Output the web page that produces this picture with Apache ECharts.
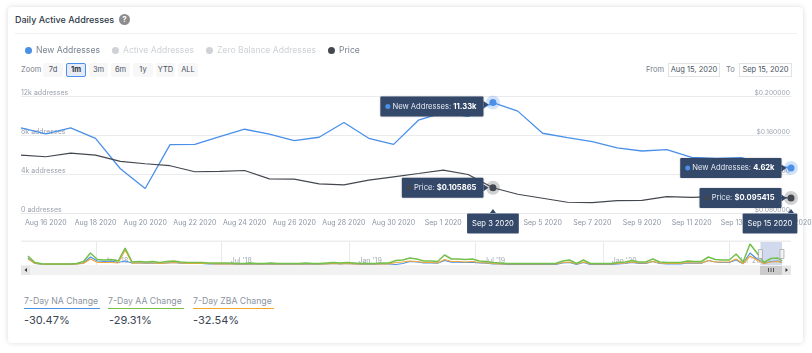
<!DOCTYPE html>
<html>
<head>
<meta charset="utf-8">
<script src="https://cdn.jsdelivr.net/npm/echarts@6/dist/echarts.min.js"></script>
<style>
html, body { margin: 0; padding: 0; background: #fff; }
body { width: 812px; height: 353px; overflow: hidden; position: relative; font-family: Inter, sans-serif; color: #3a4452; }
.card { position: absolute; left: 8px; top: 7px; width: 795px; height: 336px; background: #fff; border-radius: 4px; box-shadow: 0 0 5px rgba(40, 50, 70, .18); }
.abs { position: absolute; white-space: nowrap; }
.title { left: 15px; top: 14px; font-size: 9px; line-height: 12px; font-weight: 500; color: #2f3a48; }
.help { left: 119px; top: 14px; width: 11px; height: 11px; line-height: 11px; border-radius: 50%; background: #8c8c8c; color: #fff; font-size: 8px; font-weight: 700; text-align: center; }
.divider { left: 15px; top: 33px; width: 782px; height: 1px; background: #eef0f3; }
.small { font-size: 7.5px; line-height: 14px; color: #77808c; top: 63px; }
.btn { top: 63px; height: 14px; line-height: 14px; background: #f7f7f8; border-radius: 2px; font-size: 7.5px; text-align: center; color: #4a5360; }
.btn.on { background: #e6ebf5; box-sizing: border-box; border: 1px solid #4a90ee; line-height: 12px; font-weight: 700; color: #2f3a48; }
.date { top: 63px; height: 14px; box-sizing: border-box; border: 1px solid #e1e3e6; line-height: 12px; font-size: 7.5px; text-align: center; color: #4a5360; }
.statName { top: 295px; font-size: 8.7px; line-height: 12px; color: #8b939e; padding-bottom: 1px; border-bottom: 1px solid; }
.statVal { top: 312px; font-size: 11px; line-height: 16px; color: #3a4452; }
#chart { position: absolute; left: 0; top: 0; width: 812px; height: 353px; }
</style>
</head>
<body>
<div class="card"></div>
<div class="abs title">Daily Active Addresses</div>
<div class="abs help">?</div>
<div class="abs divider"></div>

<div class="abs small" style="left:21px">Zoom</div>
<div class="abs btn" style="left:43px;width:20px">7d</div>
<div class="abs btn on" style="left:66px;width:20px">1m</div>
<div class="abs btn" style="left:89px;width:19px">3m</div>
<div class="abs btn" style="left:111px;width:19px">6m</div>
<div class="abs btn" style="left:133px;width:20px">1y</div>
<div class="abs btn" style="left:156px;width:19px">YTD</div>
<div class="abs btn" style="left:178px;width:20px">ALL</div>

<div class="abs small" style="left:646px">From</div>
<div class="abs date" style="left:668px;width:52px">Aug 15, 2020</div>
<div class="abs small" style="left:726px">To</div>
<div class="abs date" style="left:739px;width:53px">Sep 15, 2020</div>

<div class="abs statName" style="left:24px;width:76px;border-color:#4a90e2">7-Day NA Change</div>
<div class="abs statVal" style="left:24px">-30.47%</div>
<div class="abs statName" style="left:108px;width:76px;border-color:#7ac143">7-Day AA Change</div>
<div class="abs statVal" style="left:109px">-29.31%</div>
<div class="abs statName" style="left:193px;width:81px;border-color:#f5a623">7-Day ZBA Change</div>
<div class="abs statVal" style="left:193px">-32.54%</div>

<div id="chart"></div>

<script>
// 主图数据
const dates = [
	'Aug 15 2020', 'Aug 16 2020', 'Aug 17 2020', 'Aug 18 2020', 'Aug 19 2020', 'Aug 20 2020', 'Aug 21 2020', 'Aug 22 2020',
	'Aug 23 2020', 'Aug 24 2020', 'Aug 25 2020', 'Aug 26 2020', 'Aug 27 2020', 'Aug 28 2020', 'Aug 29 2020', 'Aug 30 2020',
	'Aug 31 2020', 'Sep 1 2020', 'Sep 2 2020', 'Sep 3 2020', 'Sep 4 2020', 'Sep 5 2020', 'Sep 6 2020', 'Sep 7 2020',
	'Sep 8 2020', 'Sep 9 2020', 'Sep 10 2020', 'Sep 11 2020', 'Sep 12 2020', 'Sep 13 2020', 'Sep 14 2020', 'Sep 15 2020'
];
const newAddresses = [
	8730, 8110, 8730, 7660, 4540, 2510, 7010, 7040,
	7830, 8590, 8080, 7420, 7770, 9280, 7660, 7040,
	9520, 10300, 9900, 11330, 10450, 8180, 7730, 7320,
	6670, 6360, 6500, 5700, 5600, 5670, 4980, 4620
];
const price = [
	0.1394, 0.1377, 0.1415, 0.1394, 0.1329, 0.1305, 0.1285, 0.1223,
	0.1226, 0.1236, 0.1150, 0.1147, 0.1099, 0.1089, 0.1137, 0.1171,
	0.1205, 0.1240, 0.1195, 0.105865, 0.0992, 0.0951, 0.0910, 0.0907,
	0.0927, 0.0930, 0.0968, 0.0960, 0.0968, 0.0972, 0.0960, 0.095415
];

// 缩略图数据 每10天一个点
const navGreen = [
	9, 2.5, 1.2, 1, 1, 1, 1, 1.5, 3.5, 12,
	5.5, 5, 5.5, 4, 17, 3, 3.5, 3, 3.5, 2.5,
	3.5, 4, 3, 2.5, 2.5, 2.5, 2, 2, 2, 2,
	1.5, 1.5, 2, 1.5, 1.5, 2, 1.5, 1.5, 1.5, 1.5,
	2, 1.5, 1.5, 2, 2.5, 2, 2.5, 2, 1.5, 1.5,
	1.5, 2, 2, 4.5, 5, 7, 6, 4, 4, 3.5,
	10, 6, 6, 5.5, 6, 4, 3.5, 2.5, 2, 1.5,
	1.5, 1.5, 1.5, 1.5, 1.5, 1.5, 1.5, 4, 5, 1.5,
	5, 1.5, 1.5, 1.5, 1.5, 2.5, 3, 4.5, 3, 3,
	6, 3, 2.5, 2.5, 2.5, 4, 3.5, 3.5, 8, 5.5,
	5, 5, 11, 3, 21, 12, 2.5, 6.5, 7, 4
];
const navBlue = [
	7, 1.5, 0.8, 0.7, 0.7, 0.7, 0.7, 1, 2, 8,
	4, 3.5, 4, 2.5, 4, 2, 2, 1.8, 2, 1.5,
	2, 2.5, 1.8, 1.5, 1.5, 1.5, 1.2, 1.2, 1.2, 1,
	0.8, 0.8, 1, 0.8, 0.8, 1, 0.8, 0.8, 0.8, 0.8,
	1, 0.8, 0.8, 1, 1.5, 1, 1.5, 1, 0.8, 0.8,
	0.8, 1, 1, 0.5, 1.5, 3.5, 3, 2, 2, 1.8,
	4.5, 2.8, 2.8, 2.5, 2.8, 2, 1.8, 1.2, 1, 0.5,
	0.5, 0.5, 0.5, 0.5, 0.5, 0.5, 0.5, 2, 2.5, 0.5,
	2.5, 0.5, 0.5, 0.5, 0.5, 1.2, 1.5, 2.5, 1.5, 1.5,
	3.5, 1.5, 1.2, 1.2, 1.2, 2, 1.8, 1.8, 4.5, 3,
	2.5, 2.5, 5, 1.2, 12, 6, 1.5, 3.5, 4, 2.5
];
const navOrange = [
	6, 1.8, 0.9, 0.8, 0.8, 0.8, 0.8, 1, 1.5, 6,
	2.5, 2.5, 2.5, 2, 15, 1.8, 2, 2, 2, 1.5,
	2, 2.5, 2, 1.5, 1.5, 1.5, 1.5, 1.2, 1.2, 1.2,
	1, 1, 1.2, 1, 1, 1.2, 1, 1, 1, 1,
	1.2, 1, 1, 1.2, 1.5, 1.2, 1.5, 1.2, 1, 1,
	1, 1.2, 1.2, 2.5, 3, 4, 3.5, 2.5, 2.5, 2,
	5.5, 3.5, 3.5, 3, 3.5, 2.5, 2, 1.5, 1.2, 1,
	1, 1, 1, 1, 1, 1, 1, 2.5, 3, 1,
	3, 1, 1, 1, 1, 1.5, 2, 3, 2, 2,
	3.5, 2, 1.5, 1.5, 1.5, 2.5, 2, 2, 4.5, 3,
	3, 3, 6, 1.5, 9, 5, 1.5, 3, 3.5, 2.5
];
const navTicks = ['2018-01-01', '2018-07-01', '2019-01-01', '2019-07-01', '2020-01-01', '2020-07-01'];
const navTickLabels = ["Jan '18", "Jul '18", "Jan '19", "Jul '19", "Jan '20", "Jul '20"];
const navRange = ['2020-08-15', '2020-09-15'];

const blue = '#4a90e8';
const dark = '#43474f';
const tipBg = '#34486a';

const ts = (s) => new Date(s + 'T00:00:00Z').getTime();
// 缩略图日期 最后一个点固定在 Sep 15
const navDates = navGreen.map((v, i) => i === navGreen.length - 1 ? ts('2020-09-15') : ts('2017-09-25') + i * 864e6);
const toPairs = (arr) => arr.map((v, i) => [navDates[i], v]);

// 悬浮提示 用markPoint画
function tipPoints(idx, value, color, halo, name, valueText, offsetY) {
	const coord = [dates[idx], value];
	return [
		{ coord, symbol: 'circle', symbolSize: 14, itemStyle: { color: halo }, label: { show: false } },
		{ coord, symbol: 'circle', symbolSize: 7, itemStyle: { color }, label: { show: false } },
		{ coord, symbol: 'triangle', symbolSize: [7, 5], symbolRotate: -90, symbolOffset: [-7, offsetY ? 2 : 0], itemStyle: { color: tipBg }, label: { show: false } },
		{
			coord,
			symbol: 'rect',
			symbolSize: 1,
			itemStyle: { color: 'transparent' },
			label: {
				show: true,
				position: 'left',
				distance: 9,
				offset: [0, offsetY],
				formatter: `{dot| }{t| ${name}: }{b|${valueText}}`,
				backgroundColor: tipBg,
				borderRadius: 1,
				padding: [5, 7, 5, 5],
				shadowColor: 'rgba(0,0,0,.25)',
				shadowBlur: 2,
				rich: {
					dot: { width: 5, height: 5, borderRadius: 3, backgroundColor: color },
					t: { color: '#e4e9f1', fontSize: 7.6, fontFamily: 'Inter', lineHeight: 10 },
					b: { color: '#fff', fontSize: 7.6, fontWeight: 700, fontFamily: 'Inter', lineHeight: 10 }
				}
			}
		}
	];
}

// x轴上的日期框
function dateBox(idx, offsetX) {
	const coord = [dates[idx], 0.08];
	return [
		{ coord, symbol: 'triangle', symbolSize: [6, 4], symbolOffset: [0, -2], itemStyle: { color: tipBg }, label: { show: false } },
		{
			coord,
			symbol: 'rect',
			symbolSize: 1,
			itemStyle: { color: 'transparent' },
			label: {
				show: true,
				position: 'bottom',
				distance: 0,
				offset: [offsetX, 0],
				formatter: dates[idx],
				color: '#fff',
				fontSize: 7.6,
				fontFamily: 'Inter',
				lineHeight: 10,
				backgroundColor: tipBg,
				borderRadius: 1,
				padding: [5, 5, 5, 5]
			}
		}
	];
}

const chart = echarts.init(document.getElementById('chart'), null, { renderer: 'canvas' });
const option = {
	animation: false,
	textStyle: { fontFamily: 'Inter' },
	legend: {
		left: 25,
		top: 46,
		itemWidth: 7,
		itemHeight: 7,
		itemGap: 12,
		icon: 'circle',
		padding: 0,
		inactiveColor: '#cfd2d6',
		textStyle: { fontSize: 8.6, color: '#7b8592', padding: [0, 0, 0, -1] },
		data: ['New Addresses', 'Active Addresses', 'Zero Balance Addresses', 'Price'],
		selected: { 'Active Addresses': false, 'Zero Balance Addresses': false }
	},
	grid: [
		{ left: 21, width: 770, top: 96, height: 117, outerBoundsMode: 'none' },
		{ left: 21, width: 770, top: 242, height: 23, outerBoundsMode: 'none' }
	],
	xAxis: [
		{
			type: 'category',
			gridIndex: 0,
			data: dates,
			boundaryGap: false,
			axisTick: { show: false },
			axisLine: { lineStyle: { color: '#e6e8eb' } },
			axisLabel: {
				color: '#8b95a3',
				fontSize: 7,
				margin: 6,
				hideOverlap: false,
				interval: (i) => i % 2 === 1
			}
		},
		{
			type: 'value',
			gridIndex: 1,
			min: ts('2017-09-15'),
			max: ts('2020-09-28'),
			axisLine: { lineStyle: { color: '#f2f2f2' } },
			axisTick: { show: false, customValues: navTicks.map(ts) },
			splitLine: { show: true, lineStyle: { color: '#e8e9eb' } },
			axisLabel: {
				inside: true,
				margin: 1,
				align: 'left',
				color: '#a3a8af',
				fontSize: 7,
				padding: [0, 0, 0, 9],
				customValues: navTicks.map(ts),
				formatter: (v) => navTickLabels[navTicks.map(ts).indexOf(v)]
			}
		}
	],
	yAxis: [
		{
			type: 'value',
			gridIndex: 0,
			min: 0,
			max: 12000,
			interval: 4000,
			axisLine: { show: false },
			axisTick: { show: false },
			splitLine: { lineStyle: { color: '#e9ebee' } },
			axisLabel: {
				inside: true,
				margin: 0,
				verticalAlign: 'bottom',
				color: '#9aa2ad',
				fontSize: 7,
				formatter: (v) => (v === 0 ? '0' : v / 1000 + 'k') + ' addresses'
			}
		},
		{
			type: 'value',
			gridIndex: 0,
			position: 'right',
			min: 0.08,
			max: 0.2,
			interval: 0.04,
			axisLine: { show: false },
			axisTick: { show: false },
			splitLine: { show: false },
			axisLabel: {
				inside: true,
				margin: 1,
				verticalAlign: 'bottom',
				color: '#9aa2ad',
				fontSize: 6.7,
				formatter: (v) => '$' + v.toFixed(6)
			}
		},
		{
			type: 'value',
			gridIndex: 1,
			min: 0,
			max: 23,
			show: false
		}
	],
	series: [
		{
			name: 'New Addresses',
			type: 'line',
			data: newAddresses,
			symbol: 'none',
			color: blue,
			lineStyle: { width: 1.3 },
			markPoint: {
				data: [
					...tipPoints(19, newAddresses[19], blue, 'rgba(74,144,232,.25)', 'New Addresses', (newAddresses[19] / 1000).toFixed(2) + 'k', 4),
					...tipPoints(31, newAddresses[31], blue, 'rgba(74,144,232,.25)', 'New Addresses', (newAddresses[31] / 1000).toFixed(2) + 'k', 0)
				]
			}
		},
		{ name: 'Active Addresses', type: 'line', data: [], color: '#7ac143' },
		{ name: 'Zero Balance Addresses', type: 'line', data: [], color: '#f5a623' },
		{
			name: 'Price',
			type: 'line',
			yAxisIndex: 1,
			data: price,
			symbol: 'none',
			color: dark,
			lineStyle: { width: 1.2 },
			markPoint: {
				data: [
					...tipPoints(19, price[19], dark, 'rgba(67,71,79,.25)', 'Price', '$' + price[19].toFixed(6), 0),
					...tipPoints(31, price[31], dark, 'rgba(67,71,79,.25)', 'Price', '$' + price[31].toFixed(6), 0),
					...dateBox(19, 0),
					...dateBox(31, -21)
				]
			}
		},
		{
			type: 'line',
			xAxisIndex: 1,
			yAxisIndex: 2,
			data: toPairs(navBlue),
			symbol: 'none',
			color: blue,
			lineStyle: { width: 1.2 }
		},
		{
			type: 'line',
			xAxisIndex: 1,
			yAxisIndex: 2,
			data: toPairs(navOrange),
			symbol: 'none',
			color: '#f0a83c',
			lineStyle: { width: 1.2 }
		},
		{
			type: 'line',
			xAxisIndex: 1,
			yAxisIndex: 2,
			data: toPairs(navGreen),
			symbol: 'none',
			color: '#74c04c',
			lineStyle: { width: 1.5 },
			markArea: {
				silent: true,
				itemStyle: { color: 'rgba(102,133,194,.3)' },
				data: [[{ xAxis: ts(navRange[0]) }, { xAxis: ts(navRange[1]) }]]
			},
			// 选区两端的手柄
			markPoint: {
				symbol: 'rect',
				symbolSize: [4, 9],
				itemStyle: { color: '#f2f2f2', borderColor: '#999', borderWidth: 0.6 },
				label: { show: false },
				data: navRange.map((d) => ({ coord: [ts(d), 11] }))
			}
		}
	],
	// 滚动条
	graphic: [
		{ type: 'rect', left: 21, top: 265, shape: { width: 770, height: 10 }, style: { fill: '#f2f2f2' }, silent: true },
		{ type: 'rect', left: 21, top: 265, shape: { width: 9, height: 10 }, style: { fill: '#e6e6e6' }, silent: true },
		{ type: 'rect', left: 782, top: 265, shape: { width: 9, height: 10 }, style: { fill: '#e6e6e6' }, silent: true },
		{ type: 'rect', left: 760, top: 265, shape: { width: 22, height: 10 }, style: { fill: '#cccccc' }, silent: true },
		{ type: 'polygon', shape: { points: [[27, 268], [27, 272], [24.5, 270]] }, style: { fill: '#333' }, silent: true },
		{ type: 'polygon', shape: { points: [[785.5, 268], [785.5, 272], [788, 270]] }, style: { fill: '#333' }, silent: true },
		{ type: 'rect', left: 768, top: 268, shape: { width: 1, height: 4 }, style: { fill: '#555' }, silent: true },
		{ type: 'rect', left: 770.5, top: 268, shape: { width: 1, height: 4 }, style: { fill: '#555' }, silent: true },
		{ type: 'rect', left: 773, top: 268, shape: { width: 1, height: 4 }, style: { fill: '#555' }, silent: true },
		{ type: 'rect', left: 21, top: 240.5, shape: { width: 770, height: 1.5 }, style: { fill: '#eeeeee' }, silent: true }
	]
};
chart.setOption(option);
</script>
</body>
</html>
